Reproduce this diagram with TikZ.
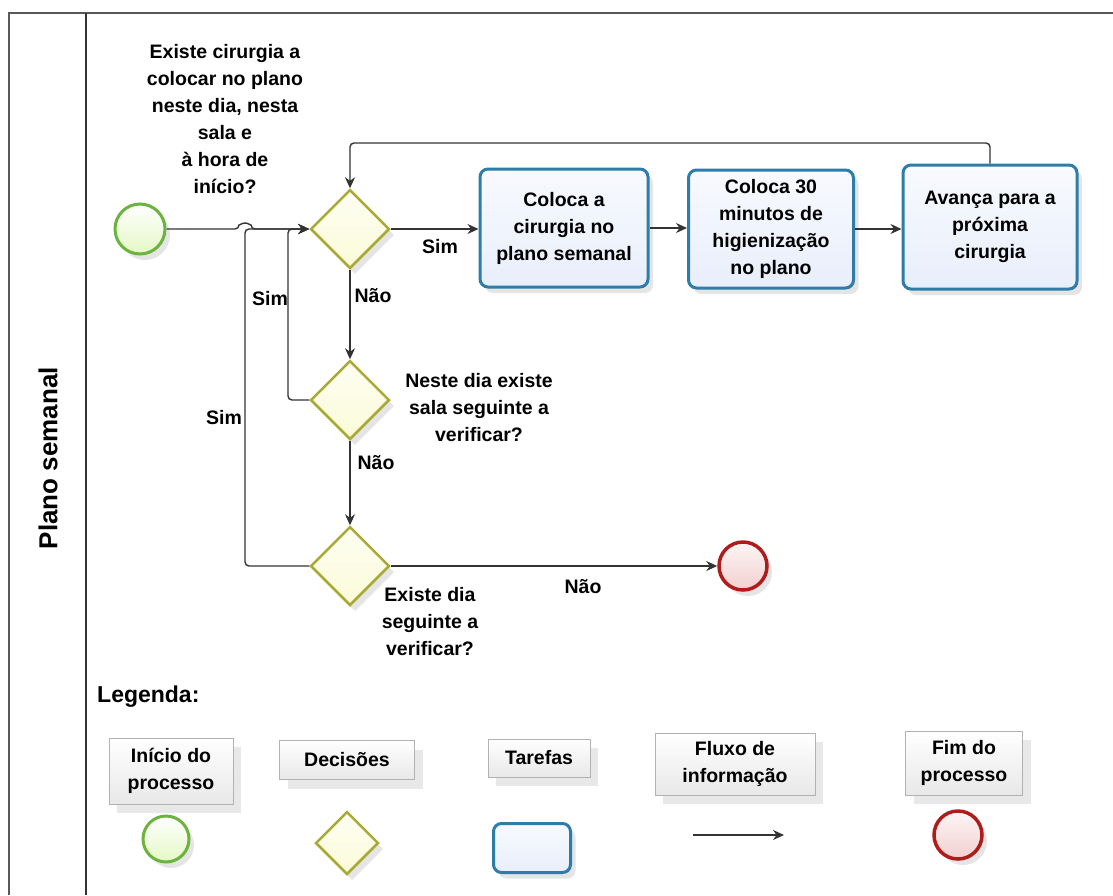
\documentclass[tikz,border=0pt]{standalone}
\usepackage{fontspec}
\setmainfont{Liberation Sans}
\usepackage{tikz}
\usetikzlibrary{shapes.geometric, arrows.meta, shadows}
\definecolor{startGreen}{HTML}{6CB33F}
\definecolor{startFill}{HTML}{E4F8C4}
\definecolor{gateOlive}{HTML}{A9A935}
\definecolor{gateFill}{HTML}{FBFBD8}
\definecolor{taskBlue}{HTML}{2E7DA8}
\definecolor{taskFill}{HTML}{E8EEFB}
\definecolor{endRed}{HTML}{AE1C1C}
\definecolor{endFill}{HTML}{F3CFCF}
\definecolor{flowGray}{HTML}{333333}

\begin{document}
\begin{tikzpicture}[x=1pt, y=-1pt,
    txt/.style={font=\fontsize{19.5}{27}\selectfont\bfseries, align=center, inner sep=0pt},
    shade/.style={drop shadow={opacity=0.2, shadow xshift=5pt, shadow yshift=-6pt}},
    startev/.style={circle, draw=startGreen, line width=3pt, top color=white, bottom color=startFill,
        minimum size=50pt, inner sep=0pt, shade},
    endev/.style={circle, draw=endRed, line width=3.5pt, top color=white!80!endFill, bottom color=endFill,
        minimum size=48pt, inner sep=0pt, shade},
    gate/.style={diamond, draw=gateOlive, line width=2.5pt, top color=white!70!gateFill, bottom color=gateFill,
        minimum size=79pt, inner sep=0pt, shade},
    task/.style={rectangle, rounded corners=8pt, draw=taskBlue, line width=3pt, top color=white!70!taskFill,
        bottom color=taskFill, minimum width=168pt, minimum height=118pt, txt, shade},
    legbox/.style={rectangle, draw=gray!60, line width=0.8pt, top color=white, bottom color=gray!18,
        txt, drop shadow={opacity=0.18, shadow xshift=8pt, shadow yshift=-9pt}},
    flow/.style={draw=flowGray, line width=1.4pt, rounded corners=4pt, -{Stealth[length=11pt, width=10pt]}},
    line/.style={draw=flowGray, line width=1.4pt, rounded corners=4pt}]
    \useasboundingbox (0,0) rectangle (1113,895);
    \fill[white] (0,0) rectangle (1113,895);

    % pool and lane
    \draw[gray!70!black, line width=1.6pt] (9,895) -- (9,13) -- (1113,13);
    \draw[flowGray, line width=1.2pt] (86,13) -- (86,895);
    \node[rotate=90, font=\fontsize{26}{30}\selectfont\bfseries] (lane) at (48,458) {Plano semanal};

    % process
    \node[startev] (start) at (140,229) {};
    \node[gate] (d1) at (350,229) {};
    \node[gate] (d2) at (350,400) {};
    \node[gate] (d3) at (350,566) {};
    \node[endev] (stop) at (743,566) {};
    \node[task] (t1) at (564,228) {Coloca a\\cirurgia no\\plano semanal};
    \node[task, minimum width=165pt] (t2) at (771,229) {Coloca 30\\minutos de\\higienização\\no plano};
    \node[task, minimum width=174pt, minimum height=124pt] (t3) at (990,227) {Avança para a\\próxima\\cirurgia};

    \node[txt] (q1) at (225,119) {Existe cirurgia a\\colocar no plano\\neste dia, nesta\\sala e\\à hora de\\início?};
    \node[txt] (q2) at (479,408) {Neste dia existe\\sala seguinte a\\verificar?};
    \node[txt] (q3) at (430,622) {Existe dia\\seguinte a\\verificar?};

    \coordinate (loopTop) at (0,143);
    \coordinate (outerX) at (245,0);
    \coordinate (innerX) at (288,0);

    \draw[flow] (start.east) -- (239,229) arc[start angle=180, end angle=360, radius=6] -- (d1.west);
    \draw[flow] (d3.west) -- (outerX |- d3.west) -- (outerX |- d1.west) -- (d1.west);
    \draw[flow] (d2.west) -- (innerX |- d2.west) -- (innerX |- d1.west) -- (d1.west);
    \draw[flow] (d1.south) -- (d2.north);
    \draw[flow] (d2.south) -- (d3.north);
    \draw[flow] (d3.east) -- (d3.east -| stop.west);
    \draw[flow] (d1.east) -- (d1.east -| t1.west);
    \draw[flow] (t1.east) -- (t1.east -| t2.west);
    \draw[flow] (t2.east) -- (t2.east -| t3.west);
    \draw[flow] (t3.north) -- (t3.north |- loopTop) -- (d1.north |- loopTop) -- (d1.north);

    \node[txt] (simA) at (440,247) {Sim};
    \node[txt] (naoA) at (373,296) {Não};
    \node[txt] (simB) at (270,299) {Sim};
    \node[txt] (simC) at (224,418) {Sim};
    \node[txt] (naoB) at (376,463) {Não};
    \node[txt] (naoC) at (583,587) {Não};

    % legend
    \node[anchor=west, font=\fontsize{23}{28}\selectfont\bfseries, inner sep=0pt] (legTitle) at (97,697) {Legenda:};
    \node[legbox, minimum width=124pt, minimum height=66pt] (lgStartBox) at (171,771) {Início do\\processo};
    \node[legbox, minimum width=135pt, minimum height=39pt] (lgGateBox) at (347,760) {Decisões};
    \node[legbox, minimum width=102pt, minimum height=38pt] (lgTaskBox) at (539,758) {Tarefas};
    \node[legbox, minimum width=160pt, minimum height=62pt] (lgFlowBox) at (735,764) {Fluxo de\\informação};
    \node[legbox, minimum width=117pt, minimum height=64pt] (lgEndBox) at (964,763) {Fim do\\processo};

    \node[startev, minimum size=46pt] (lgStart) at (166,839) {};
    \node[gate, minimum size=63pt] (lgGate) at (347,843) {};
    \node[task, minimum width=77pt, minimum height=49pt] (lgTask) at (532,848) {};
    \coordinate (lgFlowA) at (693,835);
    \coordinate (lgFlowB) at (784,835);
    \draw[flow] (lgFlowA) -- (lgFlowB);
    \node[endev] (lgEnd) at (958,835) {};
\end{tikzpicture}
\end{document}
